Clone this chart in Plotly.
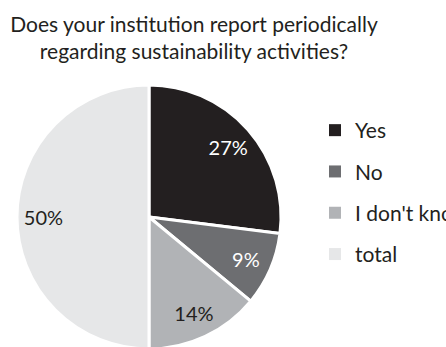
import plotly.graph_objects as go

categories = ["Yes", "No", "I don't know", "total"]
values = [27, 9, 14, 50]
colors = ["#231f20", "#6d6e71", "#b1b3b6", "#e6e7e8"]
text_colors = ["#ffffff", "#ffffff", "#231f20", "#231f20"]

title_text = "Does your institution report periodically<br>regarding sustainability activities?"

W, H = 446, 362
FONT = "Lato"

fig = go.Figure()

pie_dom_x = [17 / W, 281 / W]
pie_dom_y = [(H - 349) / H, (H - 85) / H]

# full pie with slices and white separators
fig.add_trace(go.Pie(
    labels=categories, values=values, sort=False, direction="clockwise", rotation=0,
    marker=dict(colors=colors, line=dict(color="white", width=3)),
    textinfo="none", hoverinfo="skip", showlegend=False,
    domain=dict(x=pie_dom_x, y=pie_dom_y),
))
# transparent ring used only to place the percentage labels
fig.add_trace(go.Pie(
    labels=categories, values=values, sort=False, direction="clockwise", rotation=0,
    hole=0.6,
    marker=dict(colors=["rgba(0,0,0,0)"] * 4, line=dict(width=0)),
    texttemplate="%{percent:.0%}", textposition="inside", insidetextorientation="horizontal",
    textfont=dict(family=FONT, size=20, color=text_colors),
    hoverinfo="skip", showlegend=False,
    domain=dict(x=pie_dom_x, y=pie_dom_y),
))

# legend entries
for i, (c, col) in enumerate(zip(categories, colors)):
    fig.add_trace(go.Scatter(
        x=[None], y=[None], mode="markers", name=c, legendgroup=c,
        marker=dict(symbol="square", size=12, color=col),
        hoverinfo="skip",
    ))

fig.update_layout(
    width=W, height=H,
    margin=dict(l=0, r=0, t=0, b=0, autoexpand=False),
    paper_bgcolor="white", plot_bgcolor="white",
    font=dict(family=FONT, size=21, color="#231f20"),
    title=dict(text=title_text, x=194 / W, xanchor="center", y=1 - 32 / H, yanchor="top",
               font=dict(family=FONT, size=21, color="#231f20")),
    xaxis=dict(visible=False), yaxis=dict(visible=False),
    legend=dict(x=315 / W, xanchor="left", y=1 - 110 / H, yanchor="top",
                traceorder="grouped", tracegroupgap=11,
                font=dict(family=FONT, size=21, color="#231f20"),
                bgcolor="rgba(0,0,0,0)"),
)

fig.write_html("out.html", config={"displayModeBar": False},
               post_script="document.body.style.overflow='hidden';document.body.style.margin='0';")
